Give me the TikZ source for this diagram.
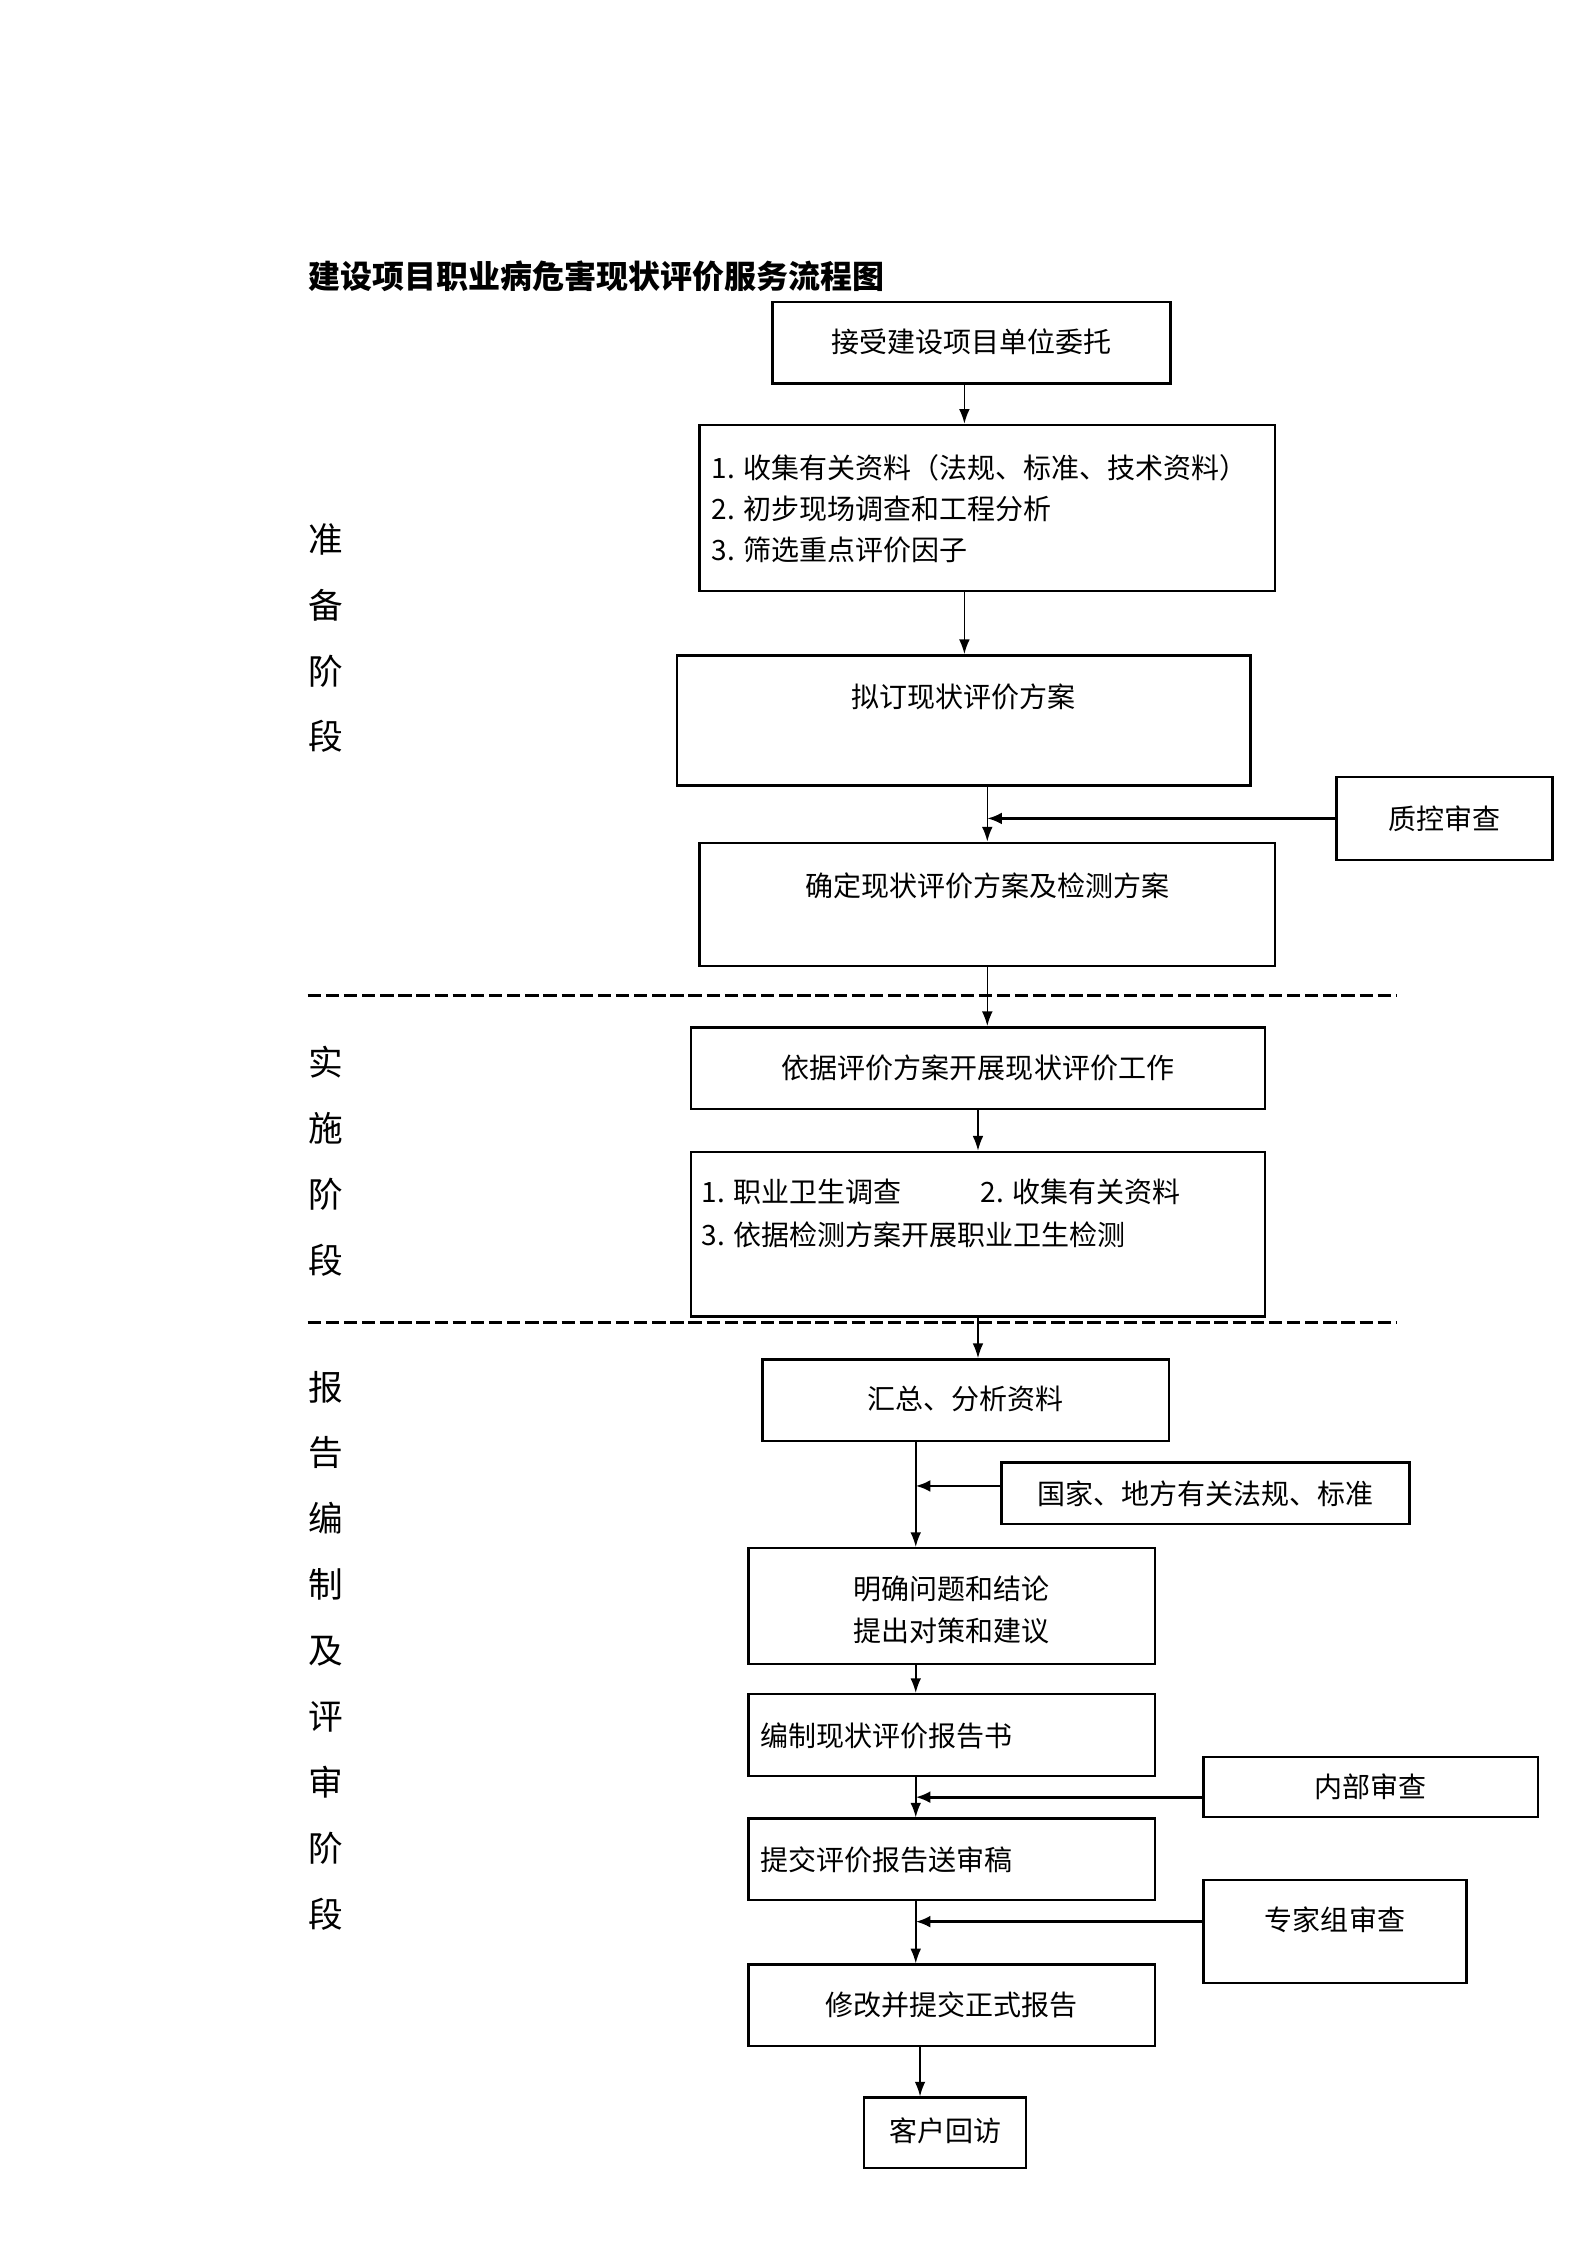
\documentclass[tikz,border=0pt]{standalone}
\usepackage{fontspec}
\setmainfont{Noto Sans CJK SC}
\usetikzlibrary{arrows.meta,fit,calc}
\begin{document}
\begin{tikzpicture}[x=0.5365pt,y=-0.5365pt,
  box/.style={draw,line width=0.9pt,inner sep=0pt},
  txt/.style={inner sep=0pt,font=\fontsize{10.5pt}{15.7pt}\selectfont},
  stage/.style={inner sep=0pt,align=center,font=\fontsize{13pt}{24.7pt}\selectfont},
  arr/.style={-{Latex[length=5.5pt,width=4pt]},line width=0.6pt},
  feed/.style={-{Latex[length=5.5pt,width=4.5pt]},line width=1pt},
  sep/.style={line width=1.1pt,dash pattern=on 5pt off 1.8pt}]
\useasboundingbox (0,0) rectangle (1109,1569);
% title
\node[anchor=west,inner sep=0pt,font=\fontsize{12pt}{14pt}\selectfont\bfseries] (title) at (215,193) {建设项目职业病危害现状评价服务流程图};
% stage labels
\node[stage] (s1) at (228,446) {准\\备\\阶\\段};
\node[stage] (s2) at (228,811.5) {实\\施\\阶\\段};
\node[stage] (s3) at (228,1153.5) {报\\告\\编\\制\\及\\评\\审\\阶\\段};
% separators
\coordinate (d1a) at (215,696); \coordinate (d1b) at (976,696);
\coordinate (d2a) at (215,924); \coordinate (d2b) at (976,924);
\draw[sep] (d1a) -- (d1b);
\draw[sep] (d2a) -- (d2b);
% box corners
\coordinate (b1a) at (540,211); \coordinate (b1b) at (818,268);
\coordinate (b2a) at (489,297); \coordinate (b2b) at (891,413);
\coordinate (b3a) at (473,458); \coordinate (b3b) at (874,549);
\coordinate (qca) at (934,543); \coordinate (qcb) at (1085,601);
\coordinate (b4a) at (489,589); \coordinate (b4b) at (891,675);
\coordinate (b5a) at (483,718); \coordinate (b5b) at (884,775);
\coordinate (b6a) at (483,805); \coordinate (b6b) at (884,920);
\coordinate (b7a) at (533,950); \coordinate (b7b) at (817,1007);
\coordinate (lawa) at (700,1022); \coordinate (lawb) at (985,1065);
\coordinate (b8a) at (523,1082); \coordinate (b8b) at (807,1163);
\coordinate (b9a) at (523,1184); \coordinate (b9b) at (807,1241);
\coordinate (nba) at (841,1228); \coordinate (nbb) at (1075,1270);
\coordinate (b10a) at (523,1271); \coordinate (b10b) at (807,1328);
\coordinate (zja) at (841,1314); \coordinate (zjb) at (1025,1386);
\coordinate (b11a) at (523,1373); \coordinate (b11b) at (807,1430);
\coordinate (kha) at (604,1466); \coordinate (khb) at (717,1515);
% boxes
\node[box,fit=(b1a)(b1b)] (b1) {};
\node[txt] (t1) at (679,239) {接受建设项目单位委托};
\node[box,fit=(b2a)(b2b)] (b2) {};
\node[txt,anchor=west] (t2a) at (497,327) {1. 收集有关资料（法规、标准、技术资料）};
\node[txt,anchor=west] (t2b) at (497,355.5) {2. 初步现场调查和工程分析};
\node[txt,anchor=west] (t2c) at (497,384) {3. 筛选重点评价因子};
\node[box,fit=(b3a)(b3b)] (b3) {};
\node[txt] (t3) at (673.5,487) {拟订现状评价方案};
\node[box,fit=(qca)(qcb)] (qc) {};
\node[txt] (tqc) at (1009.5,572) {质控审查};
\node[box,fit=(b4a)(b4b)] (b4) {};
\node[txt] (t4) at (690,619) {确定现状评价方案及检测方案};
\node[box,fit=(b5a)(b5b)] (b5) {};
\node[txt] (t5) at (683.5,746) {依据评价方案开展现状评价工作};
\node[box,fit=(b6a)(b6b)] (b6) {};
\node[txt,anchor=west] (t6a) at (490,833) {1. 职业卫生调查};
\node[txt,anchor=west] (t6b) at (685,833) {2. 收集有关资料};
\node[txt,anchor=west] (t6c) at (490,863) {3. 依据检测方案开展职业卫生检测};
\node[box,fit=(b7a)(b7b)] (b7) {};
\node[txt] (t7) at (675,978) {汇总、分析资料};
\node[box,fit=(lawa)(lawb)] (law) {};
\node[txt] (tlaw) at (842.5,1044) {国家、地方有关法规、标准};
\node[box,fit=(b8a)(b8b)] (b8) {};
\node[txt,align=center] (t8) at (665,1125) {明确问题和结论\\提出对策和建议};
\node[box,fit=(b9a)(b9b)] (b9) {};
\node[txt,anchor=west] (t9) at (531,1213) {编制现状评价报告书};
\node[box,fit=(nba)(nbb)] (nb) {};
\node[txt] (tnb) at (958,1249) {内部审查};
\node[box,fit=(b10a)(b10b)] (b10) {};
\node[txt,anchor=west] (t10) at (531,1300) {提交评价报告送审稿};
\node[box,fit=(zja)(zjb)] (zj) {};
\node[txt] (tzj) at (933,1342) {专家组审查};
\node[box,fit=(b11a)(b11b)] (b11) {};
\node[txt] (t11) at (665,1401) {修改并提交正式报告};
\node[box,fit=(kha)(khb)] (kh) {};
\node[txt] (tkh) at (660.5,1489) {客户回访};
% helper coordinates
\coordinate (x674) at (674,0);
\coordinate (x690) at (690,0);
\coordinate (x640) at (640,0);
\coordinate (x643) at (643,0);
% connectors
\draw[arr] (x674 |- b1.south) -- (x674 |- b2.north);
\draw[arr] (x674 |- b2.south) -- (x674 |- b3.north);
\draw[arr] (x690 |- b3.south) -- (b4.north);
\draw[feed] (qc.west) -- (qc.west -| x690);
\draw[arr] (b4.south) -- (b4.south |- b5.north);
\draw[arr] (b5.south) -- (b6.north);
\draw[arr] (b6.south) -- (b6.south |- b7.north);
\draw[arr] (x640 |- b7.south) -- (x640 |- b8.north);
\coordinate (lawin) at ($(law.west)+(0,-5)$);
\draw[feed] (lawin) -- (lawin -| x640);
\draw[arr] (x640 |- b8.south) -- (x640 |- b9.north);
\draw[arr] (x640 |- b9.south) -- (x640 |- b10.north);
\coordinate (nbin) at ($(nb.west)+(0,7)$);
\draw[feed] (nbin) -- (nbin -| x640);
\draw[arr] (x640 |- b10.south) -- (x640 |- b11.north);
\coordinate (zjin) at ($(zj.west)+(0,-7)$);
\draw[feed] (zjin) -- (zjin -| x640);
\draw[arr] (x643 |- b11.south) -- (x643 |- kh.north);
\end{tikzpicture}
\end{document}
